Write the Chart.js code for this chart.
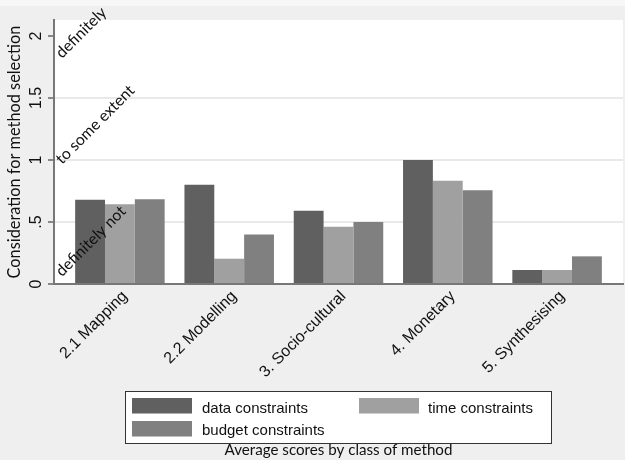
<!DOCTYPE html>
<html><head><meta charset="utf-8">
<script src="https://cdn.jsdelivr.net/npm/chart.js@4.4.0/dist/chart.umd.min.js"></script>
<style>html,body{margin:0;padding:0;background:#efefef;overflow:hidden}#wrap{width:625px;height:460px}</style>
</head><body><div id="wrap"><canvas id="c" width="625" height="460"></canvas></div>
<script>
// ---- data ----
const categories = ['2.1 Mapping', '2.2 Modelling', '3. Socio-cultural', '4. Monetary', '5. Synthesising'];
const seriesNames = ['data constraints', 'time constraints', 'budget constraints'];
const dataConstraints = [0.68, 0.80, 0.59, 1.00, 0.113];
const timeConstraints = [0.643, 0.204, 0.462, 0.833, 0.113];
const budgetConstraints = [0.683, 0.40, 0.50, 0.756, 0.223];
const yTickValues = [0, 0.5, 1, 1.5, 2];
const yTickLabels = ['0', '.5', '1', '1.5', '2'];
const scaleWords = ['definitely', 'to some extent', 'definitely not'];
const scaleWordValues = [1.815, 0.96, 0.055];
const yTitle = 'Consideration for method selection';
const caption = 'Average scores by class of method';

// ---- styling ----
const palette = ['#606060', '#a0a0a0', '#808080'];
const sansFamily = '"Liberation Sans", Arial, sans-serif';
const humanFamily = 'Lato, "Open Sans", sans-serif';
function fitSize(text, family, target) {
  const c = document.createElement('canvas').getContext('2d');
  c.font = '100px ' + family;
  return 100 * target / c.measureText(text).width;
}
const yTitleSize = fitSize(yTitle, humanFamily, 253);
const captionSize = fitSize(caption, humanFamily, 228);
const wordSize = fitSize(scaleWords[1], humanFamily, 104);

const seriesValues = [dataConstraints, timeConstraints, budgetConstraints];

const backdrop = {
  id: 'backdrop',
  beforeDraw(chart) {
    const {ctx, chartArea: a, width, height} = chart;
    ctx.save();
    ctx.fillStyle = '#efefef';
    ctx.fillRect(0, 0, width, height);
    ctx.fillStyle = '#f7f7f7';
    ctx.fillRect(0, 0, width, 6);
    ctx.fillStyle = '#ffffff';
    ctx.fillRect(a.left, a.top, a.right - a.left, a.bottom - a.top);
    ctx.restore();
  }
};

const words = {
  id: 'words',
  afterDatasetsDraw(chart) {
    const {ctx, chartArea, scales: {y}} = chart;
    ctx.save();
    ctx.font = wordSize.toFixed(2) + 'px ' + humanFamily;
    ctx.fillStyle = '#111';
    ctx.textAlign = 'left';
    ctx.textBaseline = 'alphabetic';
    scaleWords.forEach((t, i) => {
      ctx.save();
      ctx.translate(chartArea.left + 8, y.getPixelForValue(scaleWordValues[i]));
      ctx.rotate(-Math.PI / 4);
      ctx.fillText(t, 0, 0);
      ctx.restore();
    });
    ctx.restore();
  }
};

const yLabels = {
  id: 'yLabels',
  afterDraw(chart) {
    const {ctx, scales: {y}} = chart;
    ctx.save();
    ctx.font = '16px ' + sansFamily;
    ctx.fillStyle = '#111';
    ctx.textAlign = 'center';
    ctx.textBaseline = 'alphabetic';
    y.ticks.forEach(t => {
      const idx = yTickValues.indexOf(t.value);
      if (idx < 0) return;
      ctx.save();
      ctx.translate(y.right - 13, y.getPixelForValue(t.value));
      ctx.rotate(-Math.PI / 2);
      ctx.fillText(yTickLabels[idx], 0, 0);
      ctx.restore();
    });
    ctx.restore();
  }
};

const boxLegend = {
  id: 'boxLegend',
  afterDraw(chart) {
    const {ctx} = chart;
    const box = {x: 125.5, y: 391.5, w: 426, h: 52};
    const slots = [{x: 132, y: 398, tx: 202, ty: 412.5}, {x: 359, y: 398, tx: 428, ty: 412.5}, {x: 132, y: 421, tx: 202, ty: 434.5}];
    ctx.save();
    ctx.fillStyle = '#ffffff';
    ctx.fillRect(box.x, box.y, box.w, box.h);
    ctx.strokeStyle = '#333';
    ctx.lineWidth = 1;
    ctx.strokeRect(box.x, box.y, box.w, box.h);
    ctx.font = '15px ' + sansFamily;
    ctx.textAlign = 'left';
    ctx.textBaseline = 'alphabetic';
    chart.data.datasets.forEach((ds, i) => {
      const s = slots[i];
      ctx.fillStyle = ds.backgroundColor;
      ctx.fillRect(s.x, s.y, 60, 15.5);
      ctx.fillStyle = '#111';
      ctx.fillText(ds.label, s.tx, s.ty);
    });
    ctx.restore();
  }
};

new Chart(document.getElementById('c'), {
  type: 'bar',
  data: {
    labels: categories,
    datasets: seriesNames.map((name, k) => ({
      label: name,
      data: seriesValues[k].map((v, i) => ({x: i, y: v})),
      backgroundColor: palette[k],
      borderWidth: 0,
      categoryPercentage: 0.819,
      barPercentage: 1.0
    }))
  },
  options: {
    responsive: false,
    animation: false,
    devicePixelRatio: 1,
    layout: {padding: {top: 20, right: 2, left: 0, bottom: 0}},
    plugins: {
      legend: {display: false},
      tooltip: {enabled: false},
      title: {
        display: true, position: 'bottom', fullSize: false, text: caption,
        color: '#111', padding: {top: 0, bottom: 0},
        font: {family: humanFamily, size: captionSize, weight: 'normal', lineHeight: '20px'}
      }
    },
    scales: {
      x: {
        type: 'linear', min: -0.603, max: 4.603, offset: false,
        grid: {display: false, drawTicks: false, tickLength: 0},
        border: {display: true, color: '#777', width: 2},
        afterBuildTicks: s => { s.ticks = categories.map((_, i) => ({value: i})); },
        afterFit: s => { s.height = 460 - 284 - 20; },
        ticks: {
          autoSkip: false, minRotation: 45, maxRotation: 45, padding: 3, labelOffset: 5,
          color: '#111', font: {family: sansFamily, size: 16},
          callback: v => categories[v] ?? ''
        }
      },
      y: {
        min: 0, max: 2.129,
        afterBuildTicks: s => { s.ticks = yTickValues.map(v => ({value: v})); },
        afterFit: s => { s.width = 54; },
        border: {display: true, color: '#777', width: 2},
        grid: {
          color: c => (c.tick && (c.tick.value === 0 || c.tick.value === 2)) ? 'rgba(0,0,0,0)' : '#e9e9e9',
          lineWidth: 2, tickColor: '#666', tickWidth: 1.5, tickLength: 6, drawTicks: true
        },
        ticks: {display: false},
        title: {
          display: true, text: yTitle, color: '#111', padding: {top: 5, bottom: 0},
          font: {family: humanFamily, size: yTitleSize, weight: 'normal'}
        }
      }
    }
  },
  plugins: [backdrop, words, yLabels, boxLegend]
});
</script></body></html>
